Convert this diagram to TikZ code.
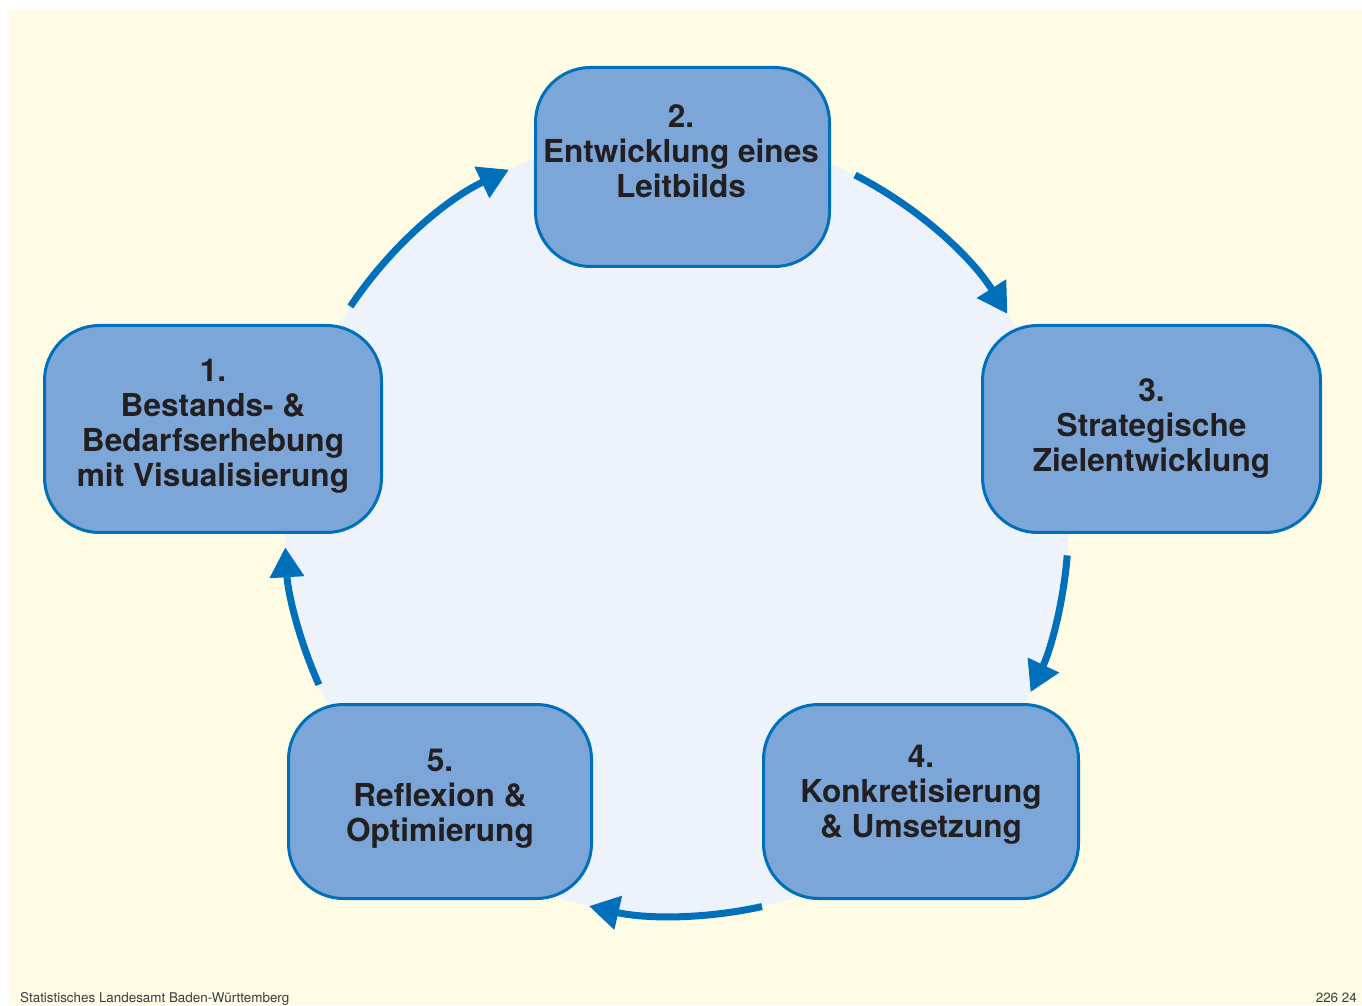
\documentclass[tikz,border=0pt]{standalone}
\usepackage{fontspec}
\setmainfont{TeX Gyre Heros}
\usetikzlibrary{arrows.meta}
\definecolor{cream}{RGB}{255,252,229}
\definecolor{disc}{RGB}{238,243,251}
\definecolor{boxfill}{RGB}{124,166,216}
\definecolor{boxline}{RGB}{0,112,186}
\definecolor{txt}{RGB}{35,31,32}
\definecolor{footgray}{RGB}{60,60,60}
\begin{document}
\begin{tikzpicture}[x=1pt,y=1pt,
  stage/.style={draw=boxline, line width=3pt, fill=boxfill, rounded corners=55pt, inner sep=0pt},
  stagetext/.style={text=txt, font=\fontsize{31.6}{35}\selectfont\bfseries, align=center, inner sep=0pt},
  cyc/.style={draw=boxline, line width=7pt, -{Triangle[length=30pt,width=33pt]}},
  foot/.style={text=footgray, font=\fontsize{13.4}{13.4}\selectfont, inner sep=0pt}]
\useasboundingbox (0,0) rectangle (1362,1005);
\fill[white] (0,0) rectangle (1362,1005);
\fill[cream] (9,0) rectangle (1362,995);
\coordinate (c) at (676.5,481);
\fill[disc] (c) circle[radius=392];
% cycle arrows
\draw[cyc] (c) ++(146.3:392) arc[start angle=146.3, end angle=115.3, radius=392];
\draw[cyc] (c) ++(62.9:392) arc[start angle=62.9, end angle=32.4, radius=392];
\draw[cyc] (c) ++(-4.6:392) arc[start angle=-4.6, end angle=-25.4, radius=392];
\draw[cyc] (c) ++(-77.4:392) arc[start angle=-77.4, end angle=-102.9, radius=392];
\draw[cyc] (c) ++(204.2:392) arc[start angle=204.2, end angle=183.4, radius=392];
% stages
\node[stage, minimum width=337pt, minimum height=207pt] (b1) at (213,576) {};
\node[stage, minimum width=294pt, minimum height=199pt] (b2) at (682.5,838) {};
\node[stage, minimum width=338pt, minimum height=207pt] (b3) at (1151.5,576) {};
\node[stage, minimum width=315pt, minimum height=194pt] (b4) at (921,203.5) {};
\node[stage, minimum width=303pt, minimum height=194pt] (b5) at (440,203.5) {};
\node[stagetext] (t1) at (213,579) {1.\\Bestands- \&\\Bedarfserhebung\\mit Visualisierung};
\node[stagetext] (t2) at (681,854) {2.\\Entwicklung eines\\Leitbilds};
\node[stagetext] (t3) at (1151.5,576) {3.\\Strategische\\Zielentwicklung};
\node[stagetext] (t4) at (921,210) {4.\\Konkretisierung\\\& Umsetzung};
\node[stagetext] (t5) at (440,206) {5.\\Reflexion \&\\Optimierung};
% footer
\node[foot, anchor=base west] (src) at (20,3) {Statistisches Landesamt Baden-Württemberg};
\node[foot, anchor=base east] (num) at (1357,3) {226 24};
\end{tikzpicture}
\end{document}
